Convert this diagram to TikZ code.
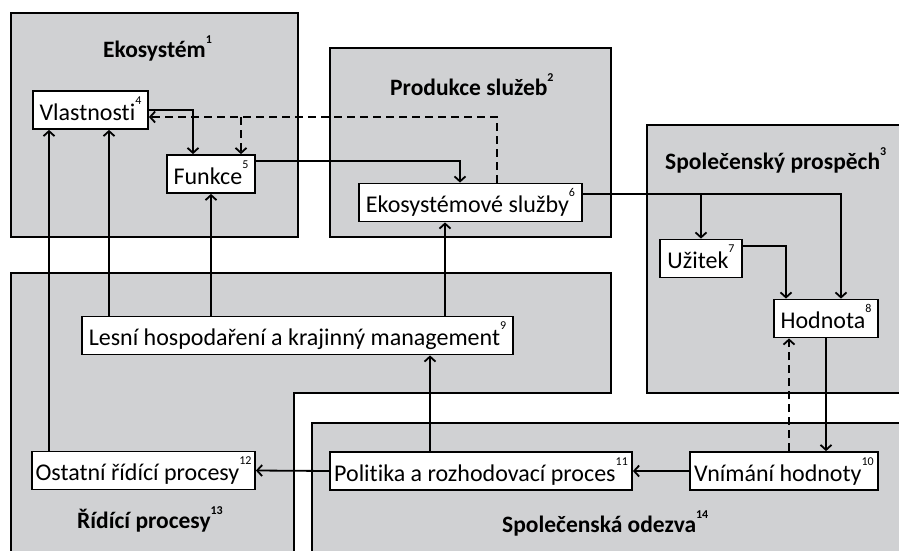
\documentclass[tikz,border=0pt]{standalone}
\usepackage{fontspec}
\setmainfont{Carlito}[Ligatures=NoCommon]
\usetikzlibrary{arrows.meta}
\definecolor{regiongray}{RGB}{208,209,211}
\newcommand{\sn}[1]{\smash{\raisebox{16pt}{\fontsize{12}{12}\selectfont #1}}}
\newcommand{\tn}[1]{\raisebox{1.2ex}{\fontsize{12}{12}\selectfont #1}}

\begin{document}
\begin{tikzpicture}[x=1pt,y=-1pt,>={Straight Barb[length=5pt,width=11pt]},
        region/.style={draw,line width=2.2pt,fill=regiongray},
        nbox/.style={draw,line width=1.8pt,fill=white,minimum height=38pt,inner sep=0pt,
                text height=26pt,text depth=6pt,font=\fontsize{24}{28}\selectfont},
        title/.style={inner sep=0pt,anchor=base west,font=\fontsize{23.5}{27}\selectfont\bfseries},
        arr/.style={->,line width=1.8pt},
        darr/.style={arr,dash pattern=on 8pt off 5pt}]
        \useasboundingbox (0,0) rectangle (899,551);
        \clip (0,0) rectangle (899,551);
        % oblasti
        \draw[region] (11,13) rectangle (298,237);
        \draw[region] (330,48) rectangle (611,237);
        \draw[region] (647,125) rectangle (915,393);
        \draw[region] (11,565) -- (11,273) -- (611,273) -- (611,393) -- (294,393) -- (294,565);
        \draw[region] (312,565) -- (312,423) -- (915,423) -- (915,565);
        % nadpisy
        \node[title] (ekosystem) at (103,57) {Ekosystém\tn{1}};
        \node[title] (produkce) at (390,95) {Produkce služeb\tn{2}};
        \node[title] (prospech) at (665,169) {Společenský prospěch\tn{3}};
        \node[title] (ridici) at (77,528) {Řídící procesy\tn{13}};
        \node[title] (odezva) at (502,532) {Společenská odezva\tn{14}};
        % uzly
        \node[nbox,minimum width=115pt] (vlastnosti) at (90.5,110) {Vlastnosti\sn{4}};
        \node[nbox,minimum width=88pt] (funkce) at (211,174) {Funkce\sn{5}};
        \node[nbox,minimum width=223pt] (sluzby) at (470.5,202.5) {Ekosystémové služby\sn{6}};
        \node[nbox,minimum width=82pt] (uzitek) at (701,258.5) {Užitek\sn{7}};
        \node[nbox,minimum width=104pt] (hodnota) at (826,318.5) {Hodnota\sn{8}};
        \node[nbox,minimum width=431pt] (lesni) at (297.5,335.5) {Lesní hospodaření a krajinný management\sn{9}};
        \node[nbox,minimum width=188pt] (vnimani) at (784,471) {Vnímání hodnoty\sn{10}};
        \node[nbox,minimum width=302pt] (politika) at (481,471) {Politika a rozhodovací proces\sn{11}};
        \node[nbox,minimum width=223pt] (ostatni) at (143.5,470.5) {Ostatní řídící procesy\sn{12}};
        \coordinate (zpetna) at (241,117);
        \coordinate (vetev) at (701,194);
        % spojnice
        \draw[arr] (vlastnosti.east) -| ([xshift=-18pt]funkce.north);
        \draw[darr] ([xshift=26.5pt]sluzby.north) |- ([yshift=-7pt]vlastnosti.east);
        \draw[darr] (zpetna) -- (zpetna |- funkce.north);
        \draw[arr] ([yshift=13pt]funkce.east) -| ([xshift=-10.5pt]sluzby.north);
        \draw[arr] ([yshift=8.5pt]sluzby.east) -| ([xshift=15pt]hodnota.north);
        \draw[arr] (vetev) -- (uzitek.north);
        \draw[arr] ([yshift=12.5pt]uzitek.east) -| ([xshift=-40pt]hodnota.north);
        \draw[arr] (hodnota.south) -- (hodnota.south |- vnimani.north);
        \draw[darr] ([xshift=-37pt]hodnota.south |- vnimani.north) -- ([xshift=-37pt]hodnota.south);
        \draw[arr] (vnimani.west) -- (politika.east);
        \draw[arr] (politika.west) -- (ostatni.east);
        \draw[arr] ([xshift=-51pt]politika.north) -- ([xshift=-51pt]politika.north |- lesni.south);
        \draw[arr] ([xshift=-94.5pt]ostatni.north) -- ([xshift=-94.5pt]ostatni.north |- vlastnosti.south);
        \draw[arr] ([xshift=18.5pt]vlastnosti.south |- lesni.north) -- ([xshift=18.5pt]vlastnosti.south);
        \draw[arr] (funkce.south |- lesni.north) -- (funkce.south);
        \draw[arr] ([xshift=-25.5pt]sluzby.south |- lesni.north) -- ([xshift=-25.5pt]sluzby.south);
\end{tikzpicture}
\end{document}
